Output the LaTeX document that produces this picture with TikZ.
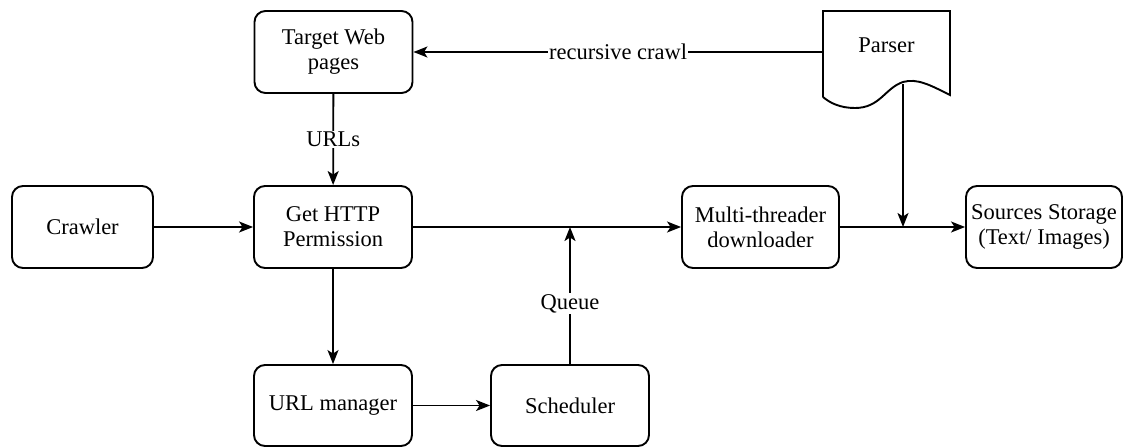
\documentclass[tikz,border=0pt]{standalone}
\usepackage{fontspec}
\setmainfont{Liberation Serif}
\usetikzlibrary{arrows.meta}
\begin{document}
\begin{tikzpicture}[x=1pt,y=-1pt,
  every node/.style={font=\fontsize{22.5}{25}\selectfont, align=center},
  box/.style={draw, line width=1.9pt, rounded corners=11pt, minimum width=158pt, minimum height=82pt, inner sep=0pt},
  conn/.style={line width=1.8pt, -{Stealth[length=14pt,width=11pt,inset=3.5pt]}},
  lbl/.style={fill=white, inner sep=1pt}]
\useasboundingbox (0,0) rectangle (1123,447);
\node[box] (target) at (333.5,52) {Target Web\\pages};
\node[box, minimum width=141pt] (crawler) at (82.5,227) {Crawler};
\node[box] (http) at (333,227) {Get HTTP\\Permission};
\node[box, minimum width=157pt] (multi) at (760.5,227) {Multi-threader\\downloader};
\node[box, minimum width=156pt] (store) at (1044,227) {Sources Storage\\(Text/ Images)};
\node[box, minimum height=81pt] (urlm) at (333,405.5) {URL manager};
\node[box, minimum height=81pt] (sched) at (570,405.5) {Scheduler};
% Parser document shape
\node[minimum width=127pt, minimum height=86pt, inner sep=0pt] (parser) at (886.5,54) {};
\node at (886.5,45) {Parser};
\draw[line width=1.9pt, line join=miter] (823,97) -- (823,11) -- (950,11) -- (950,95)
  .. controls (930,85) and (917,78) .. (903,82)
  .. controls (885,88) and (880,108) .. (855,108)
  .. controls (840,108) and (830,103) .. (823,97);
\coordinate (pbot) at (903,84);
\coordinate (join) at (903,227);
\coordinate (qtop) at (570,227);
% connectors
\draw[conn] (parser.west |- 0,52) -- node[lbl] {recursive crawl} (target.east |- 0,52);
\draw[conn] (target) -- node[lbl, pos=0.5] {URLs} (http);
\draw[conn] (crawler) -- (http);
\draw[conn] (http) -- (multi);
\draw[conn] (multi) -- (store);
\draw[conn] (pbot) -- (join);
\draw[conn] (http) -- (urlm);
\draw[conn] (urlm) -- (sched);
\draw[conn] (sched.north) -- node[lbl, pos=0.44] {Queue} (qtop);
\end{tikzpicture}
\end{document}
